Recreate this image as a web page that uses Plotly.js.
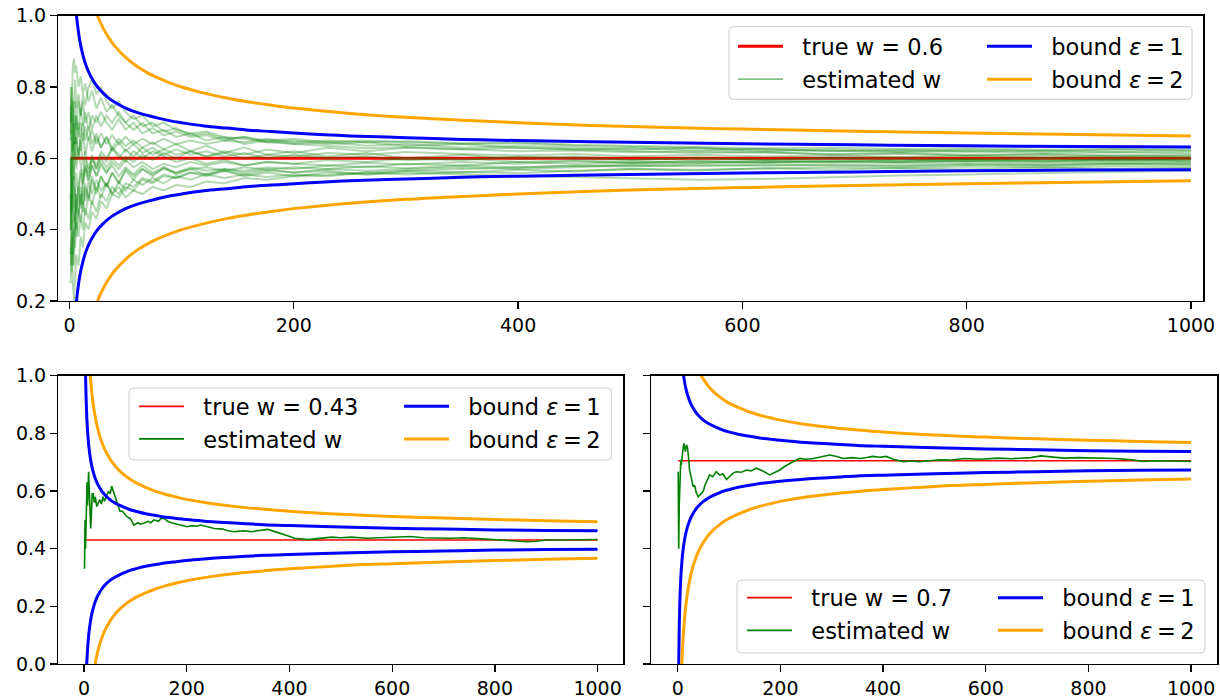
<!DOCTYPE html>
<html><head><meta charset="utf-8">
<script src="https://cdn.plot.ly/plotly-3.0.1.min.js"></script>
<style>html,body{margin:0;padding:0;background:#fff}#chart{width:1220px;height:698px}</style>
</head><body><div id="chart"></div>
<script>
// ---------------- data ----------------
const N_BOUND = [1,2,3,4,5,6,7,8,9,10,12,14,16,18,20,25,30,35,40,50,60,70,80,90,100,120,140,160,180,200,250,300,350,400,500,600,700,800,900,1000];
const DEV_EPS1 = [1.000,0.707,0.577,0.500,0.447,0.408,0.378,0.354,0.333,0.316,0.289,0.267,0.250,0.236,0.224,0.200,0.183,0.169,0.158,0.141,0.129,0.120,0.112,0.105,0.100,0.091,0.085,0.079,0.075,0.071,0.063,0.058,0.053,0.050,0.045,0.041,0.038,0.035,0.033,0.032];
const DEV_EPS2 = [2.000,1.414,1.155,1.000,0.894,0.816,0.756,0.707,0.667,0.632,0.577,0.535,0.500,0.471,0.447,0.400,0.365,0.338,0.316,0.283,0.258,0.239,0.224,0.211,0.200,0.183,0.169,0.158,0.149,0.141,0.126,0.115,0.107,0.100,0.089,0.082,0.076,0.071,0.067,0.063];

const TRUE_W_TOP = 0.6;
const TRUE_W_BL = 0.43;
const TRUE_W_BR = 0.705;
const TRUE_X = [1, 1000];

const N_TOP = [1,2,3,4,5,6,8,10,12,14,17,20,24,28,33,38,44,50,57,65,74,84,95,108,122,138,156,176,200,230,265,300,350,400,450,500,560,620,680,740,800,870,930,1000];
const EST_TOP_A = [0.75,0.62,0.70,0.78,0.82,0.74,0.78,0.72,0.76,0.70,0.73,0.68,0.72,0.69,0.72,0.70,0.73,0.70,0.68,0.70,0.67,0.68,0.66,0.67,0.65,0.66,0.64,0.65,0.64,0.645,0.635,0.64,0.63,0.635,0.63,0.625,0.63,0.62,0.625,0.62,0.625,0.62,0.625,0.622];
const EST_TOP_B = [0.33,0.45,0.38,0.30,0.42,0.50,0.44,0.52,0.47,0.53,0.49,0.55,0.51,0.55,0.52,0.56,0.53,0.57,0.55,0.57,0.555,0.57,0.56,0.575,0.565,0.57,0.56,0.57,0.56,0.565,0.555,0.56,0.555,0.55,0.548,0.545,0.54,0.542,0.548,0.552,0.555,0.558,0.562,0.565];
const EST_TOP_C = [0.67,0.80,0.86,0.88,0.84,0.86,0.80,0.83,0.78,0.81,0.76,0.79,0.74,0.77,0.73,0.75,0.72,0.70,0.72,0.69,0.70,0.675,0.685,0.665,0.67,0.655,0.66,0.645,0.65,0.64,0.645,0.635,0.64,0.63,0.625,0.62,0.615,0.618,0.61,0.613,0.608,0.61,0.605,0.607];
const EST_TOP_D = [0.50,0.33,0.25,0.20,0.28,0.33,0.30,0.38,0.35,0.42,0.40,0.45,0.43,0.48,0.46,0.50,0.49,0.52,0.51,0.54,0.53,0.55,0.545,0.56,0.555,0.57,0.565,0.575,0.57,0.58,0.575,0.585,0.58,0.59,0.585,0.59,0.588,0.593,0.59,0.595,0.592,0.596,0.594,0.597];
const EST_TOP_E = [0.60,0.45,0.55,0.65,0.58,0.66,0.60,0.65,0.58,0.62,0.57,0.61,0.58,0.62,0.60,0.63,0.61,0.59,0.62,0.60,0.62,0.605,0.59,0.60,0.585,0.595,0.58,0.59,0.585,0.595,0.59,0.60,0.595,0.605,0.60,0.595,0.60,0.597,0.602,0.60,0.598,0.601,0.599,0.60];
const EST_TOP_F = [0.40,0.55,0.62,0.70,0.64,0.72,0.68,0.74,0.69,0.73,0.68,0.72,0.70,0.73,0.70,0.68,0.71,0.68,0.70,0.67,0.685,0.665,0.675,0.66,0.665,0.65,0.66,0.65,0.655,0.645,0.65,0.645,0.64,0.642,0.635,0.632,0.628,0.625,0.622,0.618,0.62,0.615,0.617,0.614];
const EST_TOP_G = [0.25,0.40,0.33,0.40,0.35,0.42,0.38,0.44,0.40,0.46,0.43,0.48,0.45,0.50,0.48,0.52,0.50,0.53,0.52,0.545,0.535,0.555,0.545,0.56,0.55,0.565,0.555,0.565,0.56,0.57,0.565,0.57,0.575,0.57,0.575,0.58,0.578,0.582,0.58,0.578,0.582,0.58,0.584,0.582];
const EST_TOP_H = [0.70,0.80,0.70,0.62,0.70,0.64,0.70,0.62,0.67,0.61,0.66,0.62,0.66,0.63,0.66,0.62,0.645,0.62,0.64,0.615,0.63,0.61,0.625,0.61,0.62,0.605,0.615,0.60,0.61,0.60,0.605,0.595,0.60,0.59,0.595,0.588,0.592,0.587,0.59,0.586,0.589,0.585,0.588,0.586];
const EST_TOP_I = [0.60,0.50,0.45,0.52,0.46,0.40,0.46,0.42,0.48,0.44,0.50,0.47,0.52,0.49,0.53,0.50,0.535,0.51,0.54,0.525,0.545,0.53,0.55,0.54,0.555,0.545,0.555,0.548,0.555,0.55,0.56,0.555,0.562,0.558,0.565,0.57,0.568,0.572,0.575,0.573,0.577,0.575,0.578,0.576];
const EST_TOP_J = [0.50,0.62,0.70,0.64,0.72,0.68,0.76,0.72,0.78,0.75,0.80,0.82,0.78,0.80,0.76,0.74,0.76,0.73,0.71,0.72,0.69,0.70,0.68,0.67,0.675,0.66,0.655,0.645,0.64,0.635,0.628,0.632,0.625,0.62,0.622,0.617,0.62,0.615,0.612,0.615,0.61,0.612,0.609,0.61];
const EST_TOP_K = [0.45,0.60,0.52,0.58,0.50,0.56,0.50,0.56,0.52,0.57,0.53,0.58,0.55,0.59,0.56,0.58,0.55,0.575,0.555,0.58,0.56,0.575,0.56,0.57,0.575,0.565,0.575,0.568,0.575,0.57,0.578,0.572,0.58,0.575,0.58,0.577,0.582,0.579,0.583,0.58,0.584,0.581,0.585,0.583];
const EST_TOP_L = [0.35,0.28,0.38,0.45,0.40,0.48,0.52,0.47,0.54,0.58,0.55,0.60,0.57,0.61,0.59,0.63,0.60,0.625,0.605,0.63,0.61,0.625,0.61,0.62,0.605,0.615,0.60,0.61,0.605,0.615,0.61,0.618,0.612,0.608,0.612,0.606,0.61,0.605,0.608,0.604,0.607,0.603,0.606,0.604];
const EST_TOP_M = [0.55,0.68,0.60,0.54,0.62,0.57,0.63,0.58,0.55,0.60,0.56,0.60,0.57,0.60,0.575,0.60,0.58,0.605,0.59,0.61,0.595,0.615,0.60,0.62,0.605,0.62,0.61,0.625,0.615,0.63,0.62,0.63,0.625,0.63,0.625,0.628,0.622,0.626,0.62,0.624,0.619,0.622,0.618,0.62];
const EST_TOP_N = [0.30,0.38,0.30,0.36,0.44,0.38,0.45,0.50,0.45,0.52,0.48,0.54,0.50,0.55,0.52,0.56,0.53,0.565,0.54,0.57,0.55,0.575,0.555,0.57,0.555,0.565,0.55,0.56,0.55,0.56,0.555,0.565,0.56,0.568,0.563,0.57,0.566,0.572,0.568,0.573,0.569,0.574,0.57,0.572];
const EST_TOP_O = [0.65,0.77,0.72,0.66,0.60,0.66,0.61,0.66,0.70,0.65,0.69,0.64,0.67,0.63,0.66,0.63,0.655,0.635,0.65,0.63,0.645,0.625,0.64,0.62,0.635,0.615,0.63,0.61,0.62,0.605,0.615,0.60,0.61,0.598,0.605,0.596,0.602,0.595,0.60,0.594,0.598,0.593,0.597,0.595];
const EST_TOP_P = [0.40,0.55,0.48,0.42,0.50,0.44,0.50,0.46,0.52,0.48,0.53,0.50,0.54,0.51,0.53,0.50,0.52,0.49,0.51,0.50,0.52,0.51,0.525,0.52,0.535,0.53,0.545,0.54,0.55,0.553,0.56,0.565,0.57,0.575,0.578,0.583,0.586,0.59,0.592,0.59,0.593,0.59,0.592,0.59];
const EST_TOP_Q = [0.80,0.70,0.76,0.70,0.76,0.70,0.66,0.70,0.65,0.69,0.65,0.68,0.64,0.67,0.64,0.665,0.64,0.66,0.64,0.655,0.64,0.655,0.64,0.65,0.64,0.65,0.645,0.655,0.645,0.65,0.645,0.648,0.642,0.645,0.638,0.635,0.632,0.628,0.63,0.626,0.628,0.624,0.626,0.625];
const EST_TOP_R = [0.50,0.40,0.48,0.55,0.50,0.45,0.52,0.57,0.53,0.58,0.54,0.58,0.55,0.58,0.56,0.59,0.57,0.595,0.575,0.59,0.57,0.585,0.575,0.59,0.58,0.59,0.58,0.59,0.585,0.58,0.588,0.583,0.59,0.585,0.592,0.587,0.593,0.589,0.594,0.59,0.595,0.591,0.596,0.592];
const EST_TOP = [EST_TOP_A,EST_TOP_B,EST_TOP_C,EST_TOP_D,EST_TOP_E,EST_TOP_F,EST_TOP_G,EST_TOP_H,EST_TOP_I,EST_TOP_J,EST_TOP_K,EST_TOP_L,EST_TOP_M,EST_TOP_N,EST_TOP_O,EST_TOP_P,EST_TOP_Q,EST_TOP_R];

const N_BL = [1,2,3,4,5,6,7,8,9,10,11,12,13,14,15,16,18,20,22,25,28,31,34,37,40,44,48,51,54,57,61,65,70,75,80,84,90,97,105,110,116,125,130,136,145,150,156,163,170,175,185,192,201,210,220,227,240,254,270,280,293,310,325,340,358,370,384,398,410,425,437,450,463,482,500,520,551,580,610,636,660,690,714,740,770,798,830,863,880,900,927,960,1000];
const EST_BL = [0.33,0.50,0.40,0.50,0.60,0.63,0.55,0.64,0.667,0.62,0.58,0.52,0.47,0.50,0.56,0.59,0.59,0.56,0.58,0.546,0.56,0.57,0.555,0.58,0.565,0.58,0.60,0.59,0.617,0.60,0.58,0.555,0.53,0.53,0.52,0.51,0.505,0.482,0.49,0.485,0.488,0.495,0.49,0.50,0.495,0.505,0.505,0.495,0.49,0.488,0.485,0.48,0.476,0.48,0.478,0.482,0.475,0.47,0.468,0.462,0.459,0.462,0.459,0.463,0.467,0.46,0.453,0.444,0.436,0.434,0.432,0.434,0.436,0.44,0.438,0.44,0.436,0.438,0.44,0.442,0.438,0.436,0.436,0.438,0.435,0.432,0.428,0.424,0.426,0.43,0.43,0.432,0.432];

const N_BR = [1,2,3,4,5,6,7,8,10,12,13,15,17,19,21,23,26,30,33,36,40,43,46,50,53,57,62,68,75,82,88,95,101,108,114,124,134,143,153,165,179,190,199,208,218,228,238,250,264,280,296,310,322,340,355,368,380,394,406,420,439,455,471,490,510,530,558,590,623,650,688,707,730,752,780,816,850,881,907,930,946,970,1000];
const EST_BR = [0.667,0.40,0.55,0.62,0.68,0.708,0.69,0.72,0.74,0.765,0.75,0.737,0.76,0.75,0.72,0.673,0.65,0.615,0.62,0.595,0.58,0.585,0.59,0.60,0.62,0.635,0.656,0.65,0.667,0.655,0.66,0.64,0.65,0.662,0.667,0.665,0.673,0.67,0.679,0.67,0.656,0.665,0.673,0.685,0.696,0.705,0.713,0.71,0.713,0.718,0.725,0.72,0.713,0.716,0.713,0.716,0.72,0.717,0.72,0.71,0.702,0.704,0.702,0.705,0.708,0.707,0.713,0.71,0.714,0.712,0.716,0.722,0.717,0.714,0.716,0.715,0.713,0.709,0.703,0.705,0.705,0.704,0.703];

const X_TICKS = [0,200,400,600,800,1000];
const Y_TICKS_TOP = [0.2,0.4,0.6,0.8,1.0];
const Y_TICKS_BOTTOM = [0.0,0.2,0.4,0.6,0.8,1.0];
const LABEL_EST = 'estimated w';
const LABEL_B1 = 'bound <i>ε</i>\u2009=\u20091';
const LABEL_B2 = 'bound <i>ε</i>\u2009=\u20092';
const LABEL_TRUE_TOP = 'true w = 0.6';
const LABEL_TRUE_BL = 'true w = 0.43';
const LABEL_TRUE_BR = 'true w = 0.7';

// ---------------- styling ----------------
const W = 1220, H = 698;
const FONT = 'DejaVu Sans, Verdana, sans-serif';
const RED = '#ff0000', GREEN = '#008000', BLUE = '#0000ff', ORANGE = '#ffa500';
const px = v => v / W, py = v => 1 - v / H;
const PAD = '\u00a0\u00a0';

const traces = [];
function addPanel(xa, ya, trueW, est, trueLbl, legs, thin) {
  traces.push({x: TRUE_X, y: [trueW, trueW], xaxis: xa, yaxis: ya, mode: 'lines',
    line: {color: RED, width: thin ? 1.6 : 3}, name: PAD + trueLbl, legend: legs[0]});
  est.forEach(s => {
    traces.push({x: s.x, y: s.y, xaxis: xa, yaxis: ya, mode: 'lines',
      line: {color: GREEN, width: s.w}, opacity: s.op, showlegend: false});
  });
  traces.push({x: [null], y: [null], xaxis: xa, yaxis: ya, mode: 'lines',
    line: {color: thin ? GREEN : 'rgba(0,128,0,0.65)', width: thin ? 1.6 : 1.1}, name: PAD + LABEL_EST, legend: legs[1]});
  const up1 = N_BOUND.map((n, i) => trueW + DEV_EPS1[i]);
  const lo1 = N_BOUND.map((n, i) => trueW - DEV_EPS1[i]);
  const up2 = N_BOUND.map((n, i) => trueW + DEV_EPS2[i]);
  const lo2 = N_BOUND.map((n, i) => trueW - DEV_EPS2[i]);
  traces.push({x: N_BOUND, y: up1, xaxis: xa, yaxis: ya, mode: 'lines', line: {color: BLUE, width: 3, shape: 'spline'}, name: PAD + LABEL_B1, legend: legs[2]});
  traces.push({x: N_BOUND, y: lo1, xaxis: xa, yaxis: ya, mode: 'lines', line: {color: BLUE, width: 3, shape: 'spline'}, showlegend: false});
  traces.push({x: N_BOUND, y: up2, xaxis: xa, yaxis: ya, mode: 'lines', line: {color: ORANGE, width: 3, shape: 'spline'}, name: PAD + LABEL_B2, legend: legs[3]});
  traces.push({x: N_BOUND, y: lo2, xaxis: xa, yaxis: ya, mode: 'lines', line: {color: ORANGE, width: 3, shape: 'spline'}, showlegend: false});
}

addPanel('x', 'y', TRUE_W_TOP, EST_TOP.map(v => ({x: N_TOP, y: v, w: 2, op: 0.3})),
  LABEL_TRUE_TOP, ['legend', 'legend2', 'legend3', 'legend4'], false);
addPanel('x2', 'y2', TRUE_W_BL, [{x: N_BL, y: EST_BL, w: 1.6, op: 1}],
  LABEL_TRUE_BL, ['legend5', 'legend6', 'legend7', 'legend8'], true);
addPanel('x3', 'y3', TRUE_W_BR, [{x: N_BR, y: EST_BR, w: 1.6, op: 1}],
  LABEL_TRUE_BR, ['legend9', 'legend10', 'legend11', 'legend12'], true);

const ITEMW = 45;
// symX = where the legend line handle starts (px), midY = vertical centre of the row (px)
function leg(symX, midY) {
  return {x: px(symX - 5), y: py(midY), xanchor: 'left', yanchor: 'middle',
    bgcolor: 'rgba(0,0,0,0)', borderwidth: 0, itemwidth: ITEMW,
    font: {family: FONT, size: 22.5, color: '#000'}};
}
function box(x0, y0, x1, y1, r) {
  const X = v => px(v).toFixed(5), Y = v => py(v).toFixed(5);
  return {type: 'path', xref: 'paper', yref: 'paper', layer: 'above',
    fillcolor: 'rgba(255,255,255,0.8)', line: {color: '#cccccc', width: 1},
    path: `M${X(x0 + r)},${Y(y0)} L${X(x1 - r)},${Y(y0)} Q${X(x1)},${Y(y0)} ${X(x1)},${Y(y0 + r)} ` +
          `L${X(x1)},${Y(y1 - r)} Q${X(x1)},${Y(y1)} ${X(x1 - r)},${Y(y1)} L${X(x0 + r)},${Y(y1)} ` +
          `Q${X(x0)},${Y(y1)} ${X(x0)},${Y(y1 - r)} L${X(x0)},${Y(y0 + r)} Q${X(x0)},${Y(y0)} ${X(x0 + r)},${Y(y0)} Z`};
}

const axBase = {showline: true, mirror: true, linecolor: '#000', linewidth: 1.3,
  ticks: 'outside', ticklen: 7, tickwidth: 1.3, tickcolor: '#000',
  showgrid: false, zeroline: false, automargin: false,
  tickfont: {family: FONT, size: 19, color: '#000'}};

const layout = {
  width: W, height: H, margin: {l: 0, r: 0, t: 0, b: 0},
  paper_bgcolor: '#fff', plot_bgcolor: '#fff', showlegend: true,
  xaxis: Object.assign({}, axBase, {domain: [px(58.3), px(1203.3)], range: [-10, 1011], tickvals: X_TICKS, anchor: 'y'}),
  yaxis: Object.assign({}, axBase, {domain: [py(301), py(15.7)], range: [0.2, 1.0], tickvals: Y_TICKS_TOP, tickformat: '.1f', anchor: 'x'}),
  xaxis2: Object.assign({}, axBase, {domain: [px(58.3), px(623.3)], range: [-50, 1050], tickvals: X_TICKS, anchor: 'y2'}),
  yaxis2: Object.assign({}, axBase, {domain: [py(664), py(375.7)], range: [0, 1.0], tickvals: Y_TICKS_BOTTOM, tickformat: '.1f', anchor: 'x2'}),
  xaxis3: Object.assign({}, axBase, {domain: [px(651), px(1217.3)], range: [-52, 1051], tickvals: X_TICKS, anchor: 'y3'}),
  yaxis3: Object.assign({}, axBase, {domain: [py(664), py(375.7)], range: [0, 1.0], tickvals: Y_TICKS_BOTTOM, showticklabels: false, anchor: 'x3'}),
  legend: leg(738, 46.7), legend2: leg(738, 79.5), legend3: leg(987, 46.7), legend4: leg(987, 79.5),
  legend5: leg(139, 406.7), legend6: leg(139, 439.3), legend7: leg(404, 406.7), legend8: leg(404, 439.3),
  legend9: leg(747, 598), legend10: leg(747, 630.7), legend11: leg(998, 598), legend12: leg(998, 630.7),
  shapes: [box(729, 26.7, 1192, 99.3, 5), box(129, 388, 611.7, 460, 5), box(737, 580, 1205, 653, 5)]
};

Plotly.newPlot('chart', traces, layout, {staticPlot: true, displayModeBar: false});
</script>
</body></html>
